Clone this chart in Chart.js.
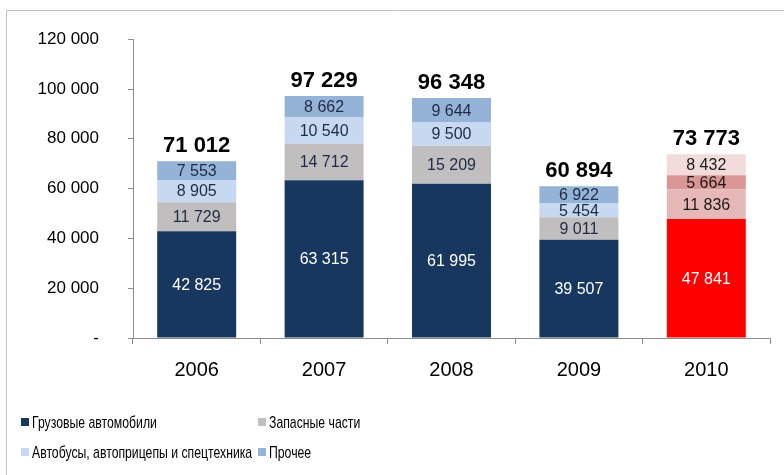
<!DOCTYPE html>
<html>
<head>
<meta charset="utf-8">
<script src="https://cdn.jsdelivr.net/npm/chart.js@4/dist/chart.umd.min.js"></script>
<style>
  html, body { margin: 0; padding: 0; background: #ffffff; }
  #wrap { width: 784px; height: 475px; position: relative; }
</style>
</head>
<body>
<div id="wrap"><canvas id="c" width="784" height="475"></canvas></div>
<script>
// Years on the category axis
const years = ['2006', '2007', '2008', '2009', '2010'];

// Sales by segment, stacked bottom to top
const trucks = [42825, 63315, 61995, 39507, 47841];
const spareParts = [11729, 14712, 15209, 9011, 11836];
const busesTrailers = [8905, 10540, 9500, 5454, 5664];
const other = [7553, 8662, 9644, 6922, 8432];

// Year totals printed above each column
const totals = [71012, 97229, 96348, 60894, 73773];

// Series names
const seriesNames = [
  'Грузовые автомобили',
  'Запасные части',
  'Автобусы, автоприцепы и спецтехника',
  'Прочее'
];

// Palette: the last column (2010) is highlighted in reds
const baseColors = ['#17375E', '#C0BEBE', '#C6D9F1', '#95B3D7'];
const highlightColors = ['#FF0000', '#E6B9B8', '#D99694', '#F2DCDB'];
const highlightIndex = 4;

function fmt(v) {
  return String(v).replace(/\B(?=(\d{3})+(?!\d))/g, ' ');
}

function colorsFor(seriesIdx) {
  return years.map((y, i) => i === highlightIndex ? highlightColors[seriesIdx] : baseColors[seriesIdx]);
}

const seriesData = [trucks, spareParts, busesTrailers, other];

const FONT = '"Liberation Sans", Arial, sans-serif';

// Outer frame of the chart block
const framePlugin = {
  id: 'frame',
  beforeDraw(chart) {
    const ctx = chart.ctx;
    ctx.save();
    ctx.fillStyle = '#ffffff';
    ctx.fillRect(0, 0, chart.width, chart.height);
    ctx.strokeStyle = '#BFBFBF';
    ctx.lineWidth = 1;
    ctx.beginPath();
    ctx.moveTo(6.5, chart.height + 2);
    ctx.lineTo(6.5, 10.5);
    ctx.lineTo(chart.width + 2, 10.5);
    ctx.stroke();
    ctx.restore();
  }
};

// Value labels inside segments and totals above columns
const labelsPlugin = {
  id: 'valueLabels',
  afterDatasetsDraw(chart) {
    const ctx = chart.ctx;
    ctx.save();
    ctx.textAlign = 'center';
    chart.data.datasets.forEach((ds, di) => {
      const meta = chart.getDatasetMeta(di);
      meta.data.forEach((bar, i) => {
        const v = ds.data[i];
        const yMid = (bar.y + bar.base) / 2;
        let color;
        if (di === 0) color = '#FFFFFF';
        else if (i === highlightIndex) color = '#1A1A1A';
        else color = '#1F2A44';
        ctx.fillStyle = color;
        ctx.font = '16px ' + FONT;
        ctx.textBaseline = 'middle';
        ctx.fillText(fmt(v), bar.x, yMid + 1);
      });
    });
    const lastMeta = chart.getDatasetMeta(chart.data.datasets.length - 1);
    lastMeta.data.forEach((bar, i) => {
      ctx.fillStyle = '#000000';
      ctx.font = 'bold 22px ' + FONT;
      ctx.textBaseline = 'alphabetic';
      ctx.fillText(fmt(totals[i]), bar.x, bar.y - 9);
    });
    ctx.restore();
  }
};

// Two-column legend under the plot, set in a condensed face
const legendPlugin = {
  id: 'gridLegend',
  afterDraw(chart) {
    const ctx = chart.ctx;
    const cols = [21, 258];
    const rows = [422, 452];
    const squeeze = 0.72;
    ctx.save();
    ctx.font = '17px ' + FONT;
    ctx.textBaseline = 'middle';
    ctx.textAlign = 'left';
    seriesNames.forEach((name, k) => {
      const x = cols[k % 2];
      const y = rows[Math.floor(k / 2)];
      ctx.fillStyle = baseColors[k];
      ctx.fillRect(x, y - 4, 8, 8);
      ctx.save();
      ctx.translate(x + 11, y + 1);
      ctx.scale(squeeze, 1);
      ctx.fillStyle = '#000000';
      ctx.fillText(name, 0, 0);
      ctx.restore();
    });
    ctx.restore();
  }
};

new Chart(document.getElementById('c'), {
  type: 'bar',
  data: {
    labels: years,
    datasets: seriesData.map((d, k) => ({
      label: seriesNames[k],
      data: d,
      backgroundColor: colorsFor(k),
      borderWidth: 0,
      categoryPercentage: 1.0,
      barPercentage: 0.62
    }))
  },
  options: {
    responsive: false,
    animation: false,
    layout: { padding: { left: 0, right: 14, top: 34, bottom: 0 } },
    plugins: {
      legend: { display: false },
      tooltip: { enabled: false }
    },
    scales: {
      x: {
        stacked: true,
        grid: {
          offset: true,
          drawOnChartArea: false,
          drawTicks: true,
          tickLength: 6,
          color: '#8C8C8C'
        },
        border: { display: true, color: '#8C8C8C' },
        ticks: {
          color: '#000000',
          font: { family: FONT, size: 20 },
          padding: 14
        },
        afterFit(scale) { scale.height = 137; }
      },
      y: {
        stacked: true,
        min: 0,
        max: 120000,
        grid: {
          drawOnChartArea: false,
          drawTicks: true,
          tickLength: 5,
          color: '#8C8C8C'
        },
        border: { display: true, color: '#8C8C8C' },
        ticks: {
          stepSize: 20000,
          color: '#000000',
          font: { family: FONT, size: 17 },
          padding: 29,
          callback: (v) => v === 0 ? '-' : fmt(v)
        },
        afterFit(scale) { scale.width = 133; }
      }
    }
  },
  plugins: [framePlugin, labelsPlugin, legendPlugin]
});
</script>
</body>
</html>
